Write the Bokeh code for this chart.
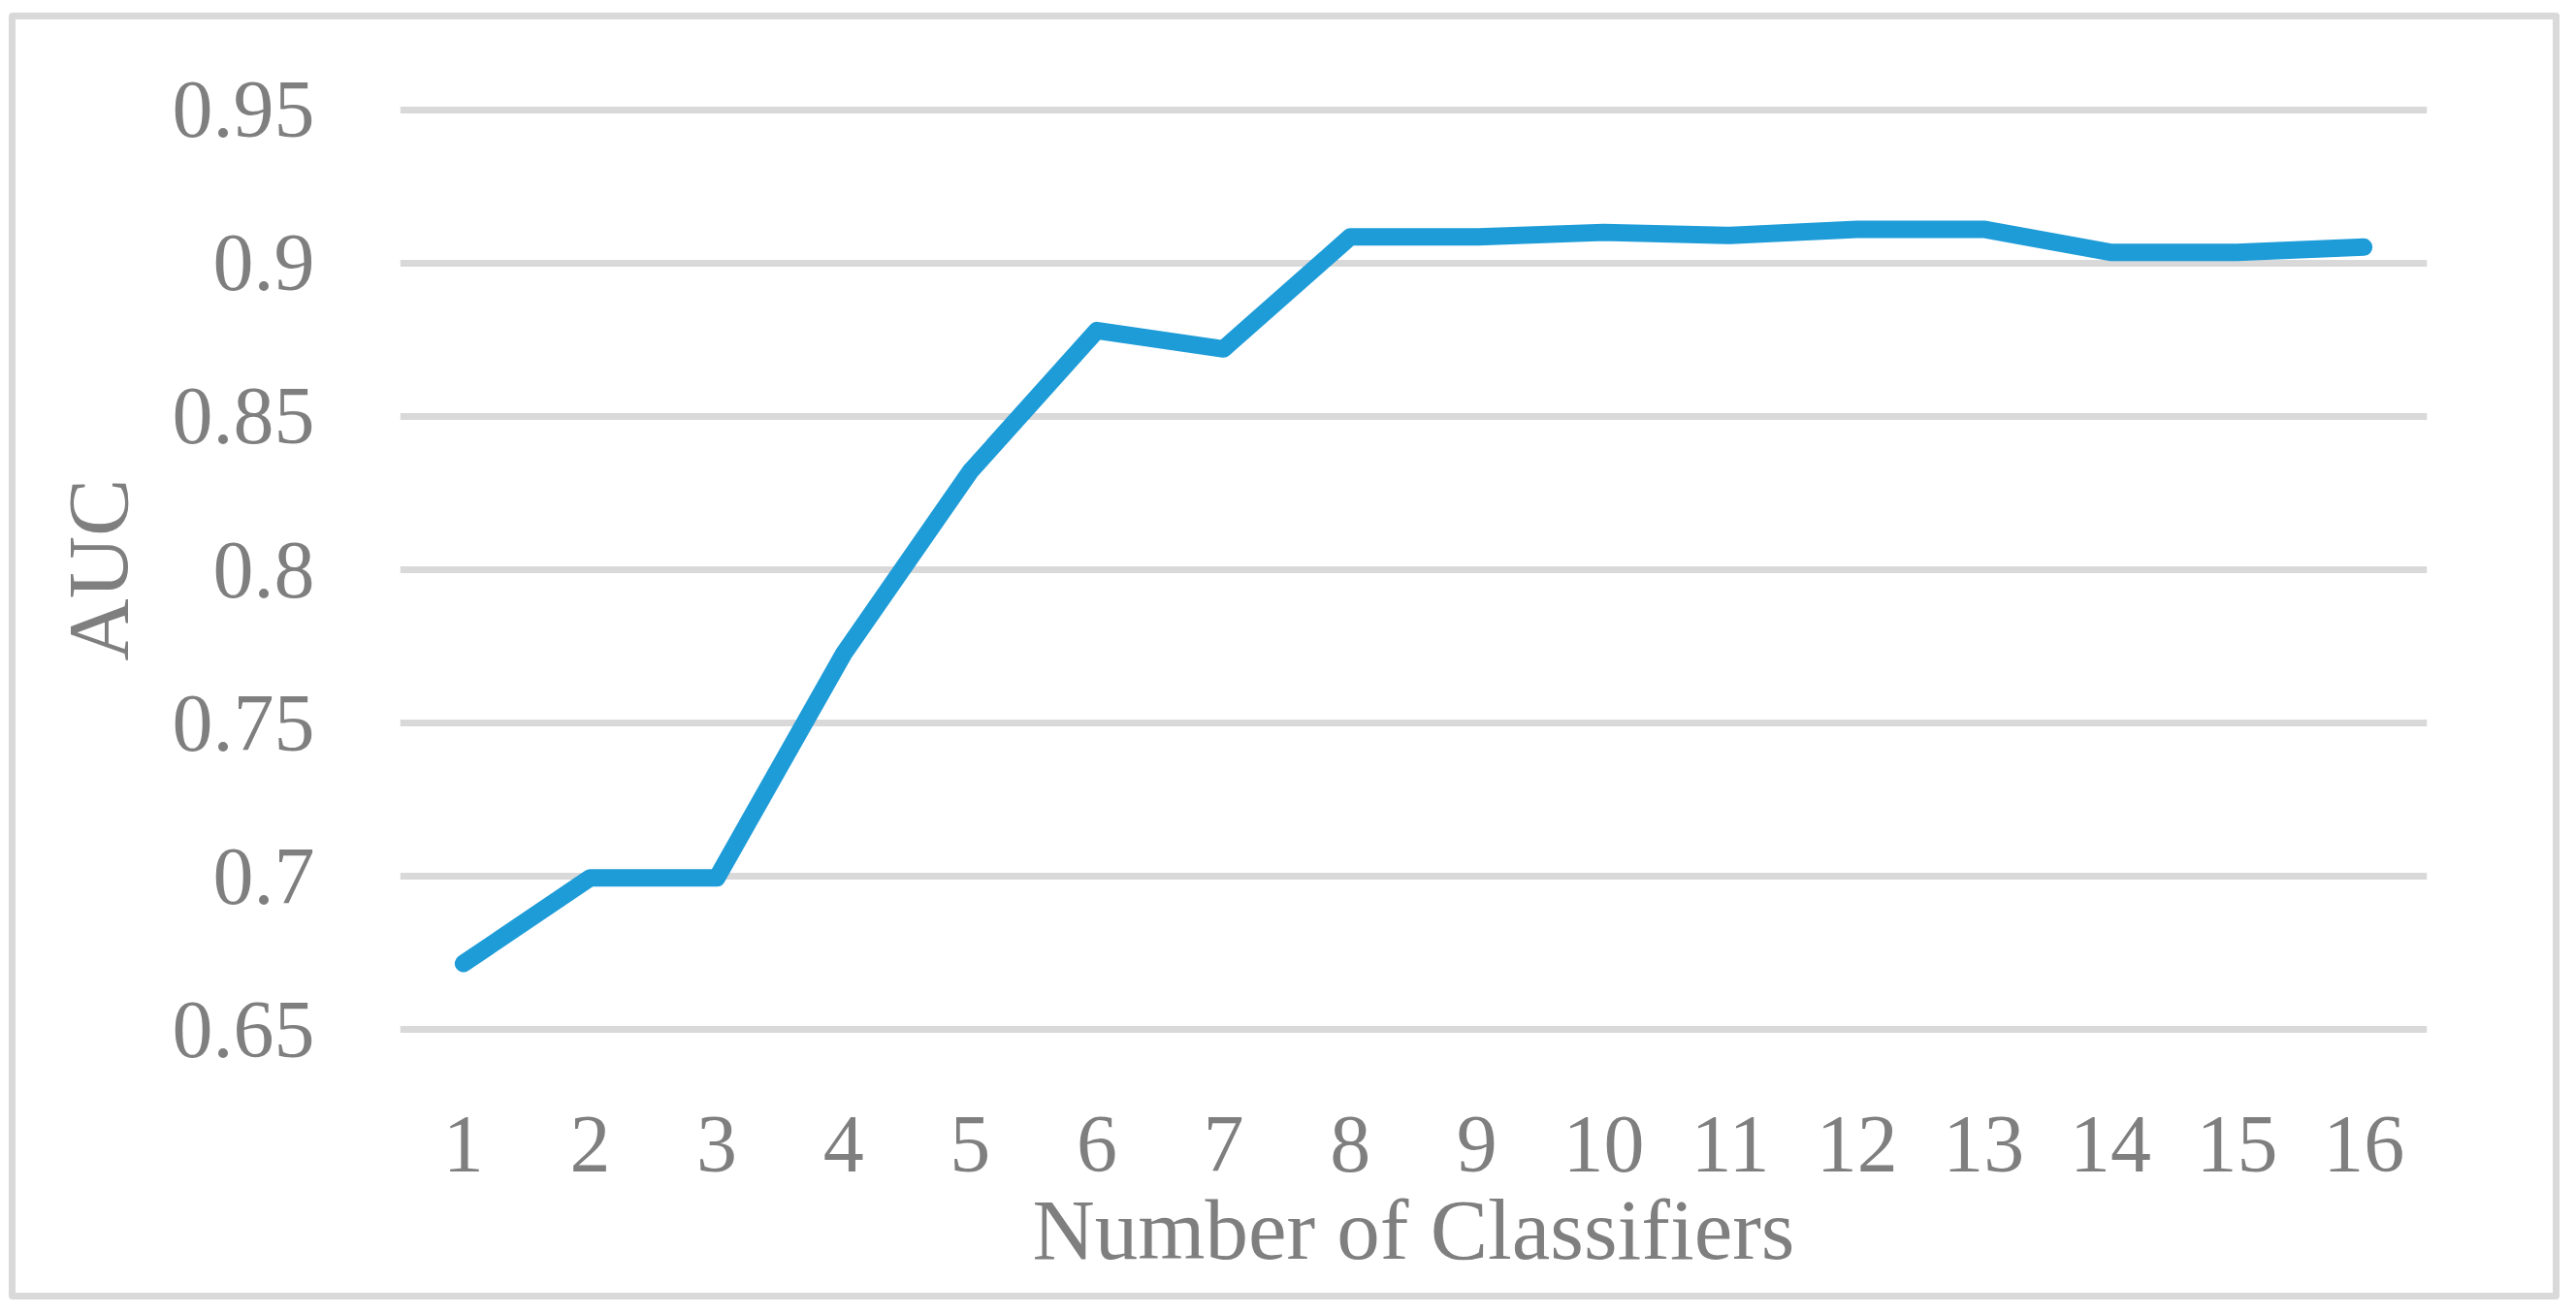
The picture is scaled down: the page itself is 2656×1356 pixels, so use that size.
from bokeh.plotting import figure
from bokeh.models import FactorRange, Range1d, FixedTicker
from bokeh.embed import file_html
from bokeh.resources import INLINE

# ---- data ----
classifiers = ["1", "2", "3", "4", "5", "6", "7", "8", "9", "10", "11", "12", "13", "14", "15", "16"]
auc = [0.6716, 0.6995, 0.6995, 0.7725, 0.8320, 0.8780, 0.8720, 0.9085,
       0.9085, 0.9100, 0.9090, 0.9110, 0.9110, 0.9035, 0.9035, 0.9052]
y_ticks = [0.65, 0.70, 0.75, 0.80, 0.85, 0.90, 0.95]
y_tick_labels = ["0.65", "0.7", "0.75", "0.8", "0.85", "0.9", "0.95"]
x_title = "Number of Classifiers"
y_title = "AUC"

FONT = "Liberation Serif"
TEXT = "#7f7f7f"
GRID = "#d9d9d9"
LINE = "#1e9cd8"

p = figure(
    x_range=FactorRange(*classifiers),
    y_range=Range1d(0.64, 0.96),
    width=2616, height=1313,
    output_backend="svg", toolbar_location=None,
    min_border_left=396, min_border_right=144,
    min_border_top=61, min_border_bottom=254,
)
p.styles = {"border": "7px solid #d9d9d9", "border-radius": "4px",
            "box-sizing": "content-box",
            "margin-left": "9px", "margin-top": "13px"}

p.line(x=classifiers, y=auc, line_color=LINE, line_width=18,
       line_cap="round", line_join="round")

p.outline_line_color = None
p.background_fill_color = "white"
p.border_fill_color = "white"

p.xgrid.grid_line_color = None
p.ygrid.grid_line_color = GRID
p.ygrid.grid_line_width = 7
p.yaxis.ticker = FixedTicker(ticks=y_ticks)
p.yaxis.major_label_overrides = {t: l for t, l in zip(y_ticks, y_tick_labels)}

for ax in (p.xaxis[0], p.yaxis[0]):
    ax.axis_line_color = None
    ax.major_tick_line_color = None
    ax.minor_tick_line_color = None
    ax.major_tick_out = 0
    ax.major_tick_in = 0
    ax.major_label_text_font = FONT
    ax.major_label_text_font_size = "84px"
    ax.major_label_text_color = TEXT
    ax.axis_label_text_font = FONT
    ax.axis_label_text_font_size = "89px"
    ax.axis_label_text_color = TEXT
    ax.axis_label_text_font_style = "normal"

p.xaxis.axis_label = x_title
p.yaxis.axis_label = y_title
p.xaxis.major_label_standoff = 58
p.xaxis.axis_label_standoff = 8
p.yaxis.major_label_standoff = 88
p.yaxis.axis_label_standoff = 25

open("out.html", "w").write(file_html(p, INLINE))
